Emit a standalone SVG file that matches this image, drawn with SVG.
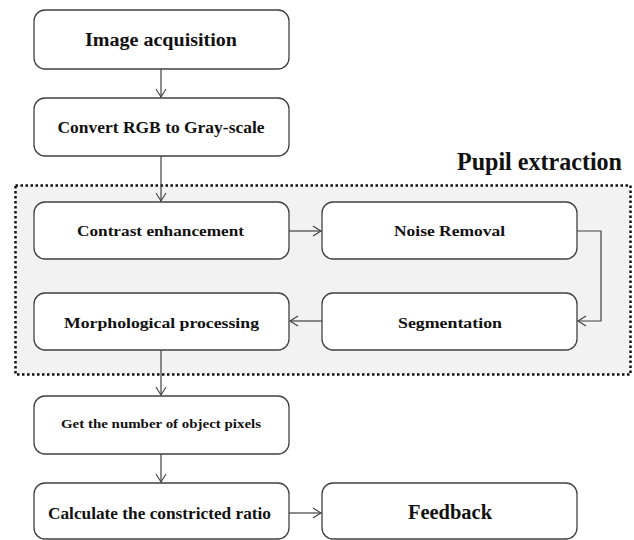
<svg xmlns="http://www.w3.org/2000/svg" width="634" height="540" viewBox="0 0 634 540">
<defs>
<marker id="arr" markerWidth="12" markerHeight="12" refX="10" refY="6" orient="auto" markerUnits="userSpaceOnUse">
<path d="M2,1 L10,6 L2,11" fill="none" stroke="#404040" stroke-width="1.1"/>
</marker>
<style>
.box{fill:#ffffff;stroke:#404040;stroke-width:1.3}
.t{font-family:"Liberation Serif","Times New Roman",serif;font-weight:bold;fill:#111;text-anchor:middle}
.c{fill:none;stroke:#404040;stroke-width:1.2}
</style>
</defs>
<rect x="0" y="0" width="634" height="540" fill="#ffffff"/>
<g id="group-pupil">
<rect x="15.5" y="185.5" width="615" height="189" fill="#f2f2f2" stroke="#111" stroke-width="2.5" stroke-dasharray="2.5,2.5"/>
<text x="539.5" y="170" class="t" style="font-size:26px" textLength="165" lengthAdjust="spacingAndGlyphs">Pupil extraction</text>
</g>
<g id="n1"><rect class="box" x="34" y="10" width="255" height="59" rx="11"/><text class="t" x="161" y="46" style="font-size:18px" textLength="152" lengthAdjust="spacingAndGlyphs">Image acquisition</text></g>
<g id="n2"><rect class="box" x="34" y="98" width="255" height="58" rx="11"/><text class="t" x="161" y="133" style="font-size:16.5px" textLength="207" lengthAdjust="spacingAndGlyphs">Convert RGB to Gray-scale</text></g>
<g id="n3"><rect class="box" x="34" y="202" width="255" height="57" rx="11"/><text class="t" x="160.5" y="236" style="font-size:15.5px" textLength="167" lengthAdjust="spacingAndGlyphs">Contrast enhancement</text></g>
<g id="n4"><rect class="box" x="322" y="202" width="255" height="57" rx="11"/><text class="t" x="449.5" y="236" style="font-size:15.5px" textLength="111" lengthAdjust="spacingAndGlyphs">Noise Removal</text></g>
<g id="n5"><rect class="box" x="322" y="293" width="255" height="57" rx="11"/><text class="t" x="450" y="328" style="font-size:15.5px" textLength="104" lengthAdjust="spacingAndGlyphs">Segmentation</text></g>
<g id="n6"><rect class="box" x="34" y="293" width="255" height="57" rx="11"/><text class="t" x="161.5" y="328" style="font-size:15.5px" textLength="195" lengthAdjust="spacingAndGlyphs">Morphological processing</text></g>
<g id="n7"><rect class="box" x="34" y="396" width="255" height="58" rx="11"/><text class="t" x="161" y="428" style="font-size:13.5px" textLength="200" lengthAdjust="spacingAndGlyphs">Get the number of object pixels</text></g>
<g id="n8"><rect class="box" x="34" y="483" width="255" height="56" rx="11"/><text class="t" x="159.5" y="519" style="font-size:17px" textLength="223" lengthAdjust="spacingAndGlyphs">Calculate the constricted ratio</text></g>
<g id="n9"><rect class="box" x="322" y="483" width="255" height="56" rx="11"/><text class="t" x="450" y="519" style="font-size:20px" textLength="84" lengthAdjust="spacingAndGlyphs">Feedback</text></g>
<g id="connectors">
<path class="c" d="M161,69 V97" marker-end="url(#arr)"/>
<path class="c" d="M161,156 V201" marker-end="url(#arr)"/>
<path class="c" d="M289,231 H321" marker-end="url(#arr)"/>
<path class="c" d="M577,231 H601 V321 H578" marker-end="url(#arr)"/>
<path class="c" d="M322,321 H290" marker-end="url(#arr)"/>
<path class="c" d="M161,350 V395" marker-end="url(#arr)"/>
<path class="c" d="M161,454 V482" marker-end="url(#arr)"/>
<path class="c" d="M289,513 H321" marker-end="url(#arr)"/>
</g>
</svg>
